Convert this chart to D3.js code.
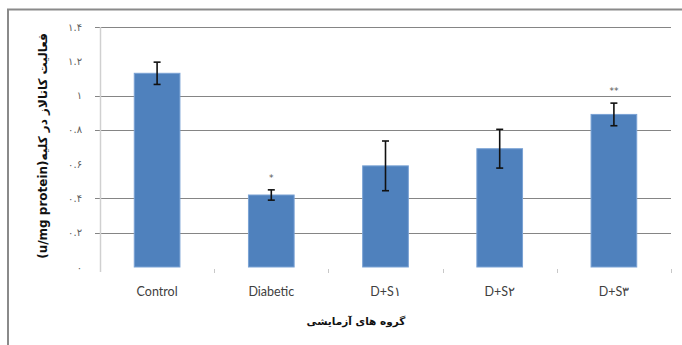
<!DOCTYPE html>
<html>
<head>
<meta charset="utf-8">
<script src="https://cdn.jsdelivr.net/npm/d3@7"></script>
<style>
  html, body { margin: 0; padding: 0; background: #fff; }
  svg { display: block; }
</style>
</head>
<body>
<svg id="chart" width="682" height="345"></svg>
<script>
// Catalase activity in kidney by experimental group
const categories = ["Control", "Diabetic", "D+S\u06F1", "D+S\u06F2", "D+S\u06F3"];
const means = [1.13, 0.42, 0.59, 0.69, 0.89];
const errors = [0.065, 0.03, 0.145, 0.113, 0.066];
const marks = ["", "*", "", "", "**"];
const yTicks = [0, 0.2, 0.4, 0.6, 0.8, 1.0, 1.2, 1.4];
const yTickLabels = ["\u06F0", "\u06F0.\u06F2", "\u06F0.\u06F4", "\u06F0.\u06F6", "\u06F0.\u06F8", "\u06F1", "\u06F1.\u06F2", "\u06F1.\u06F4"];
const gridValues = [0.2, 0.4, 0.8, 1.0, 1.4];
const yTitle = "(u/mg protein)\u0641\u0639\u0627\u0644\u06CC\u062A \u06A9\u0627\u062A\u0627\u0644\u0627\u0632 \u062F\u0631 \u06A9\u0644\u06CC\u0647";
const xTitle = "\u06AF\u0631\u0648\u0647 \u0647\u0627\u06CC \u0622\u0632\u0645\u0627\u06CC\u0634\u06CC";

const svg = d3.select("#chart");
const plot = { left: 100, right: 671, top: 27, bottom: 267 };

const x = d3.scaleBand()
  .domain(categories)
  .range([plot.left, plot.right])
  .paddingInner(0.6)
  .paddingOuter(0.3);

const y = d3.scaleLinear()
  .domain([0, 1.4])
  .range([plot.bottom, plot.top]);

// outer chart frame
svg.append("rect")
  .attr("x", 8).attr("y", 9.5)
  .attr("width", 720).attr("height", 360)
  .attr("fill", "none")
  .attr("stroke", "#8a8a8a")
  .attr("stroke-width", 2);

// horizontal gridlines with short outside ticks
svg.append("g")
  .selectAll("line")
  .data(gridValues)
  .join("line")
  .attr("x1", plot.left - 5)
  .attr("x2", plot.right)
  .attr("y1", d => Math.round(y(d)) + 0.5)
  .attr("y2", d => Math.round(y(d)) + 0.5)
  .attr("stroke", "#858585")
  .attr("stroke-width", 1);

// vertical value axis line
svg.append("line")
  .attr("x1", plot.left + 0.5).attr("x2", plot.left + 0.5)
  .attr("y1", plot.top).attr("y2", plot.bottom + 5)
  .attr("stroke", "#d0d0d0")
  .attr("stroke-width", 1.5);

// y tick labels
svg.append("g")
  .selectAll("text")
  .data(yTicks)
  .join("text")
  .attr("x", 82)
  .attr("y", d => y(d))
  .attr("dy", "0.35em")
  .attr("text-anchor", "end")
  .attr("font-family", "DejaVu Sans, sans-serif")
  .attr("font-size", 10)
  .attr("fill", "#606060")
  .text((d, i) => yTickLabels[i]);

// category boundary ticks
const boundaries = categories.map(c => x(c) + x.bandwidth() + x.step() * x.paddingInner() / 2);
svg.append("g")
  .selectAll("line")
  .data(boundaries)
  .join("line")
  .attr("x1", d => Math.round(d) + 0.5)
  .attr("x2", d => Math.round(d) + 0.5)
  .attr("y1", plot.bottom + 2)
  .attr("y2", plot.bottom + 6)
  .attr("stroke", "#c8c8c8")
  .attr("stroke-width", 1);

// bars
svg.append("g")
  .selectAll("rect")
  .data(categories)
  .join("rect")
  .attr("x", d => x(d))
  .attr("y", (d, i) => y(means[i]))
  .attr("width", x.bandwidth())
  .attr("height", (d, i) => y(0) - y(means[i]))
  .attr("fill", "#4f81bd")
  .attr("stroke", "#7aa2d4")
  .attr("stroke-width", 1);

// error bars
const eb = svg.append("g")
  .attr("stroke", "#111")
  .attr("stroke-width", 1.6);
categories.forEach((c, i) => {
  const cx = x(c) + x.bandwidth() / 2;
  const hi = y(means[i] + errors[i]);
  const lo = y(means[i] - errors[i]);
  eb.append("line").attr("x1", cx).attr("x2", cx).attr("y1", hi).attr("y2", lo);
  eb.append("line").attr("x1", cx - 3.5).attr("x2", cx + 3.5).attr("y1", hi).attr("y2", hi);
  eb.append("line").attr("x1", cx - 3.5).attr("x2", cx + 3.5).attr("y1", lo).attr("y2", lo);
});

// significance marks
svg.append("g")
  .selectAll("text")
  .data(categories)
  .join("text")
  .attr("x", d => x(d) + x.bandwidth() / 2)
  .attr("y", (d, i) => y(means[i] + errors[i]) - 9)
  .attr("text-anchor", "middle")
  .attr("font-family", "DejaVu Sans, sans-serif")
  .attr("font-size", 9)
  .attr("fill", "#555")
  .text((d, i) => marks[i]);

// category labels
svg.append("g")
  .selectAll("text")
  .data(categories)
  .join("text")
  .attr("x", d => x(d) + x.bandwidth() / 2)
  .attr("y", 296)
  .attr("text-anchor", "middle")
  .attr("font-family", "Lato, sans-serif")
  .attr("font-size", 12.5)
  .attr("fill", "#404040")
  .text(d => d);

// axis titles
svg.append("text")
  .attr("x", 356)
  .attr("y", 325)
  .attr("text-anchor", "middle")
  .attr("font-family", "DejaVu Sans, sans-serif")
  .attr("font-weight", "bold")
  .attr("font-size", 10.5)
  .attr("fill", "#111")
  .text(xTitle);

svg.append("text")
  .attr("transform", "translate(47,146) rotate(-90)")
  .attr("text-anchor", "middle")
  .attr("font-family", "DejaVu Sans, sans-serif")
  .attr("font-weight", "bold")
  .attr("font-size", 12)
  .attr("fill", "#111")
  .text(yTitle);
</script>
</body>
</html>
